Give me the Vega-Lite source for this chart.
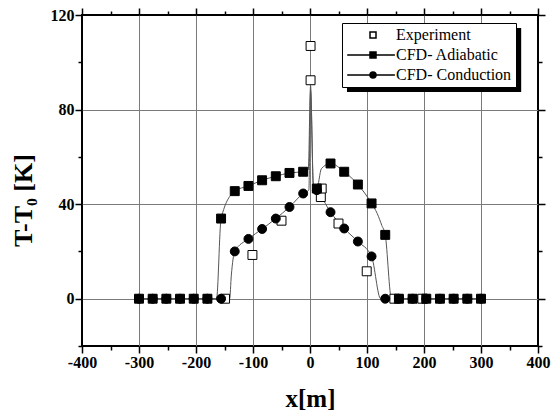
{
  "$schema": "https://vega.github.io/schema/vega-lite/v6.json",
  "width": 456,
  "height": 331,
  "autosize": {"type": "none"},
  "padding": {"left": 82, "top": 15, "right": 13, "bottom": 66},
  "background": "white",
  "config": {
    "view": {"stroke": "black", "strokeWidth": 2},
    "font": "Liberation Serif",
    "axis": {
      "domain": false,
      "tickColor": "black", "tickWidth": 1.5,
      "gridColor": "#7a7a7a", "gridWidth": 1,
      "labelFont": "Liberation Serif", "labelFontSize": 16, "labelFontWeight": "bold", "labelColor": "black",
      "titleFont": "Liberation Serif", "titleFontWeight": "bold", "titleColor": "black"
    },
    "legend": {
      "labelFont": "Liberation Serif", "labelFontSize": 16, "labelColor": "black", "labelFontWeight": "normal"
    }
  },
  "datasets": {
    "lines": [
      {"series": "CFD- Adiabatic", "x": -300, "y": 0},
      {"series": "CFD- Adiabatic", "x": -180, "y": 0},
      {"series": "CFD- Adiabatic", "x": -164, "y": 0},
      {"series": "CFD- Adiabatic", "x": -156, "y": 33.9},
      {"series": "CFD- Adiabatic", "x": -132, "y": 45.5},
      {"series": "CFD- Adiabatic", "x": -108, "y": 47.7},
      {"series": "CFD- Adiabatic", "x": -84, "y": 50.1},
      {"series": "CFD- Adiabatic", "x": -60, "y": 51.8},
      {"series": "CFD- Adiabatic", "x": -36, "y": 53.2},
      {"series": "CFD- Adiabatic", "x": -12, "y": 53.7},
      {"series": "CFD- Adiabatic", "x": -3, "y": 54.5},
      {"series": "CFD- Adiabatic", "x": 1, "y": 90},
      {"series": "CFD- Adiabatic", "x": 6, "y": 48},
      {"series": "CFD- Adiabatic", "x": 12, "y": 46.6},
      {"series": "CFD- Adiabatic", "x": 20, "y": 55},
      {"series": "CFD- Adiabatic", "x": 36, "y": 57.2},
      {"series": "CFD- Adiabatic", "x": 60, "y": 53.7},
      {"series": "CFD- Adiabatic", "x": 84, "y": 48.3},
      {"series": "CFD- Adiabatic", "x": 108, "y": 40.3},
      {"series": "CFD- Adiabatic", "x": 118, "y": 36},
      {"series": "CFD- Adiabatic", "x": 126, "y": 31},
      {"series": "CFD- Adiabatic", "x": 132, "y": 27},
      {"series": "CFD- Adiabatic", "x": 143, "y": 0},
      {"series": "CFD- Adiabatic", "x": 156, "y": 0},
      {"series": "CFD- Adiabatic", "x": 300, "y": 0},
      {"series": "CFD- Conduction", "x": -300, "y": 0},
      {"series": "CFD- Conduction", "x": -156, "y": 0},
      {"series": "CFD- Conduction", "x": -141, "y": 0},
      {"series": "CFD- Conduction", "x": -138, "y": 10},
      {"series": "CFD- Conduction", "x": -132, "y": 20},
      {"series": "CFD- Conduction", "x": -108, "y": 25.3},
      {"series": "CFD- Conduction", "x": -84, "y": 29.5},
      {"series": "CFD- Conduction", "x": -60, "y": 33.9},
      {"series": "CFD- Conduction", "x": -36, "y": 38.8},
      {"series": "CFD- Conduction", "x": -12, "y": 44.5},
      {"series": "CFD- Conduction", "x": -2, "y": 46},
      {"series": "CFD- Conduction", "x": 1, "y": 88},
      {"series": "CFD- Conduction", "x": 6, "y": 47},
      {"series": "CFD- Conduction", "x": 12, "y": 45.9},
      {"series": "CFD- Conduction", "x": 36, "y": 36.6},
      {"series": "CFD- Conduction", "x": 60, "y": 29.7},
      {"series": "CFD- Conduction", "x": 84, "y": 24.2},
      {"series": "CFD- Conduction", "x": 108, "y": 17.9},
      {"series": "CFD- Conduction", "x": 124, "y": 0},
      {"series": "CFD- Conduction", "x": 132, "y": 0},
      {"series": "CFD- Conduction", "x": 300, "y": 0}
    ],
    "markers": [
      {"series": "Experiment", "x": -149, "y": 0},
      {"series": "Experiment", "x": -101, "y": 18.5},
      {"series": "Experiment", "x": -50, "y": 33},
      {"series": "Experiment", "x": 1, "y": 106.9},
      {"series": "Experiment", "x": 1, "y": 92.4},
      {"series": "Experiment", "x": 19, "y": 43},
      {"series": "Experiment", "x": 20.5, "y": 46.6},
      {"series": "Experiment", "x": 50, "y": 31.8},
      {"series": "Experiment", "x": 99.5, "y": 11.6},
      {"series": "Experiment", "x": 148, "y": 0},
      {"series": "Experiment", "x": 197, "y": 0},
      {"series": "CFD- Adiabatic", "x": -300, "y": 0},
      {"series": "CFD- Adiabatic", "x": -276, "y": 0},
      {"series": "CFD- Adiabatic", "x": -252, "y": 0},
      {"series": "CFD- Adiabatic", "x": -228, "y": 0},
      {"series": "CFD- Adiabatic", "x": -204, "y": 0},
      {"series": "CFD- Adiabatic", "x": -180, "y": 0},
      {"series": "CFD- Adiabatic", "x": -156, "y": 33.9},
      {"series": "CFD- Adiabatic", "x": -132, "y": 45.5},
      {"series": "CFD- Adiabatic", "x": -108, "y": 47.7},
      {"series": "CFD- Adiabatic", "x": -84, "y": 50.1},
      {"series": "CFD- Adiabatic", "x": -60, "y": 51.8},
      {"series": "CFD- Adiabatic", "x": -36, "y": 53.2},
      {"series": "CFD- Adiabatic", "x": -12, "y": 53.7},
      {"series": "CFD- Adiabatic", "x": 12, "y": 46.6},
      {"series": "CFD- Adiabatic", "x": 36, "y": 57.2},
      {"series": "CFD- Adiabatic", "x": 60, "y": 53.7},
      {"series": "CFD- Adiabatic", "x": 84, "y": 48.3},
      {"series": "CFD- Adiabatic", "x": 108, "y": 40.3},
      {"series": "CFD- Adiabatic", "x": 132, "y": 27},
      {"series": "CFD- Adiabatic", "x": 156, "y": 0},
      {"series": "CFD- Adiabatic", "x": 180, "y": 0},
      {"series": "CFD- Adiabatic", "x": 204, "y": 0},
      {"series": "CFD- Adiabatic", "x": 228, "y": 0},
      {"series": "CFD- Adiabatic", "x": 252, "y": 0},
      {"series": "CFD- Adiabatic", "x": 276, "y": 0},
      {"series": "CFD- Adiabatic", "x": 300, "y": 0},
      {"series": "CFD- Conduction", "x": -300, "y": 0},
      {"series": "CFD- Conduction", "x": -276, "y": 0},
      {"series": "CFD- Conduction", "x": -252, "y": 0},
      {"series": "CFD- Conduction", "x": -228, "y": 0},
      {"series": "CFD- Conduction", "x": -204, "y": 0},
      {"series": "CFD- Conduction", "x": -180, "y": 0},
      {"series": "CFD- Conduction", "x": -156, "y": 0},
      {"series": "CFD- Conduction", "x": -132, "y": 20},
      {"series": "CFD- Conduction", "x": -108, "y": 25.3},
      {"series": "CFD- Conduction", "x": -84, "y": 29.5},
      {"series": "CFD- Conduction", "x": -60, "y": 33.9},
      {"series": "CFD- Conduction", "x": -36, "y": 38.8},
      {"series": "CFD- Conduction", "x": -12, "y": 44.5},
      {"series": "CFD- Conduction", "x": 12, "y": 45.9},
      {"series": "CFD- Conduction", "x": 36, "y": 36.6},
      {"series": "CFD- Conduction", "x": 60, "y": 29.7},
      {"series": "CFD- Conduction", "x": 84, "y": 24.2},
      {"series": "CFD- Conduction", "x": 108, "y": 17.9},
      {"series": "CFD- Conduction", "x": 132, "y": 0},
      {"series": "CFD- Conduction", "x": 156, "y": 0},
      {"series": "CFD- Conduction", "x": 180, "y": 0},
      {"series": "CFD- Conduction", "x": 204, "y": 0},
      {"series": "CFD- Conduction", "x": 228, "y": 0},
      {"series": "CFD- Conduction", "x": 252, "y": 0},
      {"series": "CFD- Conduction", "x": 276, "y": 0},
      {"series": "CFD- Conduction", "x": 300, "y": 0}
    ]
  },
  "layer": [
    {
      "data": {"name": "lines"},
      "transform": [{"filter": "datum.series === 'CFD- Adiabatic'"}],
      "mark": {"type": "line", "interpolate": "monotone", "stroke": "#555555", "strokeWidth": 1},
      "encoding": {
        "x": {
          "field": "x", "type": "quantitative",
          "scale": {"domain": [-400, 400], "nice": false, "zero": false},
          "axis": {
            "orient": "bottom",
            "values": [-400, -300, -200, -100, 0, 100, 200, 300, 400],
            "labelExpr": "replace(datum.label, '\u2212', '-')",
            "tickSize": 7,
            "encode": {"ticks": {"update": {"y2": {"value": -7}}}},
            "grid": false,
            "zindex": 1,
            "labelPadding": 1,
            "labelFlush": false,
            "title": "x[m]",
            "titleFontSize": 25,
            "titleX": 228,
            "titleY": 60,
            "titleBaseline": "alphabetic"
          }
        },
        "y": {
          "field": "y", "type": "quantitative",
          "scale": {"domain": [-20, 120], "nice": false, "zero": false},
          "axis": {
            "orient": "left",
            "values": [0, 40, 80, 120],
            "tickSize": 7,
            "encode": {"ticks": {"update": {"x2": {"value": 7}}}},
            "grid": false,
            "zindex": 1,
            "labelPadding": 1,
            "labelFlush": false,
            "title": "T-T₀ [K]",
            "titleFontSize": 26,
            "titleX": -51,
            "titleY": 185,
            "titleBaseline": "alphabetic"
          }
        }
      }
    },
    {
      "data": {"name": "lines"},
      "transform": [{"filter": "datum.series === 'CFD- Conduction'"}],
      "mark": {"type": "line", "interpolate": "monotone", "stroke": "#555555", "strokeWidth": 1},
      "encoding": {
        "x": {
          "field": "x", "type": "quantitative",
          "scale": {"domain": [-400, 400], "nice": false, "zero": false},
          "axis": {
            "orient": "bottom",
            "values": [-300, -200, -100, 0, 100, 200, 300],
            "ticks": false,
            "labels": false,
            "grid": true,
            "zindex": 0,
            "title": null
          }
        },
        "y": {
          "field": "y", "type": "quantitative",
          "scale": {"domain": [-20, 120], "nice": false, "zero": false},
          "axis": {
            "orient": "left",
            "values": [0, 40, 80],
            "ticks": false,
            "labels": false,
            "grid": true,
            "zindex": 0,
            "title": null
          }
        }
      }
    },
    {
      "data": {"values": [{}]},
      "mark": {"type": "rect", "fill": "black"},
      "encoding": {
        "x": {
          "datum": 64.9, "type": "quantitative",
          "scale": {"domain": [-400, 400], "nice": false, "zero": false},
          "axis": {
            "orient": "bottom",
            "values": [-350, -250, -150, -50, 50, 150, 250, 350],
            "tickSize": 4,
            "encode": {"ticks": {"update": {"y2": {"value": -4}}}},
            "labels": false,
            "grid": false,
            "zindex": 1,
            "title": null
          }
        },
        "x2": {"datum": 370.5},
        "y": {
          "datum": 114.5, "type": "quantitative",
          "scale": {"domain": [-20, 120], "nice": false, "zero": false},
          "axis": {
            "orient": "left",
            "values": [-20, 20, 60, 100],
            "tickSize": 4,
            "encode": {"ticks": {"update": {"x2": {"value": 4}}}},
            "labels": false,
            "grid": false,
            "zindex": 1,
            "title": null
          }
        },
        "y2": {"datum": 87.4}
      }
    },
    {
      "data": {"name": "markers"},
      "transform": [{"filter": "datum.series === 'Experiment'"}],
      "mark": {"type": "point", "filled": true, "stroke": "black", "strokeWidth": 1, "size": 80, "opacity": 1},
      "encoding": {
        "x": {
          "field": "x", "type": "quantitative",
          "scale": {"domain": [-400, 400], "nice": false, "zero": false},
          "axis": {
            "orient": "top",
            "values": [-350, -250, -150, -50, 50, 150, 250, 350],
            "tickSize": 4,
            "encode": {"ticks": {"update": {"y2": {"value": 4}}}},
            "labels": false,
            "grid": false,
            "zindex": 1,
            "title": null
          }
        },
        "y": {
          "field": "y", "type": "quantitative",
          "scale": {"domain": [-20, 120], "nice": false, "zero": false},
          "axis": {
            "orient": "right",
            "values": [-20, 20, 60, 100],
            "tickSize": 4,
            "encode": {"ticks": {"update": {"x2": {"value": -4}}}},
            "labels": false,
            "grid": false,
            "zindex": 1,
            "title": null
          }
        },
        "shape": {
          "field": "series", "type": "nominal",
          "scale": {
            "domain": ["Experiment", "CFD- Adiabatic", "CFD- Conduction"],
            "range": ["M-1,-1H1V1H-1Z", "M-8.6,0H-1M1,0H7.3M-1,-1H1V1H-1Z", "M-8.6,0H-1M1,0H7.3M1,0A1,1 0 1,1 -1,0A1,1 0 1,1 1,0Z"]
          },
          "legend": {
            "title": null,
            "orient": "none",
            "legendX": 260,
            "legendY": 8,
            "strokeColor": "black",
            "fillColor": "white",
            "padding": 4,
            "rowPadding": 4,
            "symbolSize": 36,
            "symbolOffset": 19,
            "labelOffset": 15,
            "encode": {
              "symbols": {
                "update": {
                  "fill": {"signal": "datum.value === 'Experiment' ? 'white' : 'black'"},
                  "stroke": {"signal": "'black'"}
                }
              }
            }
          }
        },
        "fill": {
          "field": "series", "type": "nominal",
          "scale": {"domain": ["Experiment", "CFD- Adiabatic", "CFD- Conduction"], "range": ["white", "black", "black"]},
          "legend": null
        }
      }
    },
    {
      "data": {"name": "markers"},
      "transform": [{"filter": "datum.series === 'CFD- Adiabatic'"}],
      "mark": {"type": "point", "shape": "square", "filled": true, "fill": "black", "stroke": "black", "strokeWidth": 1, "size": 80, "opacity": 1},
      "encoding": {
        "x": {
          "field": "x", "type": "quantitative",
          "scale": {"domain": [-400, 400], "nice": false, "zero": false},
          "axis": {
            "orient": "top",
            "values": [-400, -300, -200, -100, 0, 100, 200, 300, 400],
            "tickSize": 7,
            "encode": {"ticks": {"update": {"y2": {"value": 7}}}},
            "labels": false,
            "grid": false,
            "zindex": 1,
            "title": null
          }
        },
        "y": {
          "field": "y", "type": "quantitative",
          "scale": {"domain": [-20, 120], "nice": false, "zero": false},
          "axis": {
            "orient": "right",
            "values": [0, 40, 80, 120],
            "tickSize": 7,
            "encode": {"ticks": {"update": {"x2": {"value": -7}}}},
            "labels": false,
            "grid": false,
            "zindex": 1,
            "title": null
          }
        }
      }
    },
    {
      "data": {"name": "markers"},
      "transform": [{"filter": "datum.series === 'CFD- Conduction'"}],
      "mark": {"type": "point", "shape": "circle", "filled": true, "fill": "black", "stroke": "black", "strokeWidth": 1, "size": 80, "opacity": 1},
      "encoding": {
        "x": {
          "field": "x", "type": "quantitative",
          "scale": {"domain": [-400, 400], "nice": false, "zero": false},
          "axis": null
        },
        "y": {
          "field": "y", "type": "quantitative",
          "scale": {"domain": [-20, 120], "nice": false, "zero": false},
          "axis": null
        }
      }
    }
  ],
  "resolve": {"axis": {"x": "independent", "y": "independent"}}
}
